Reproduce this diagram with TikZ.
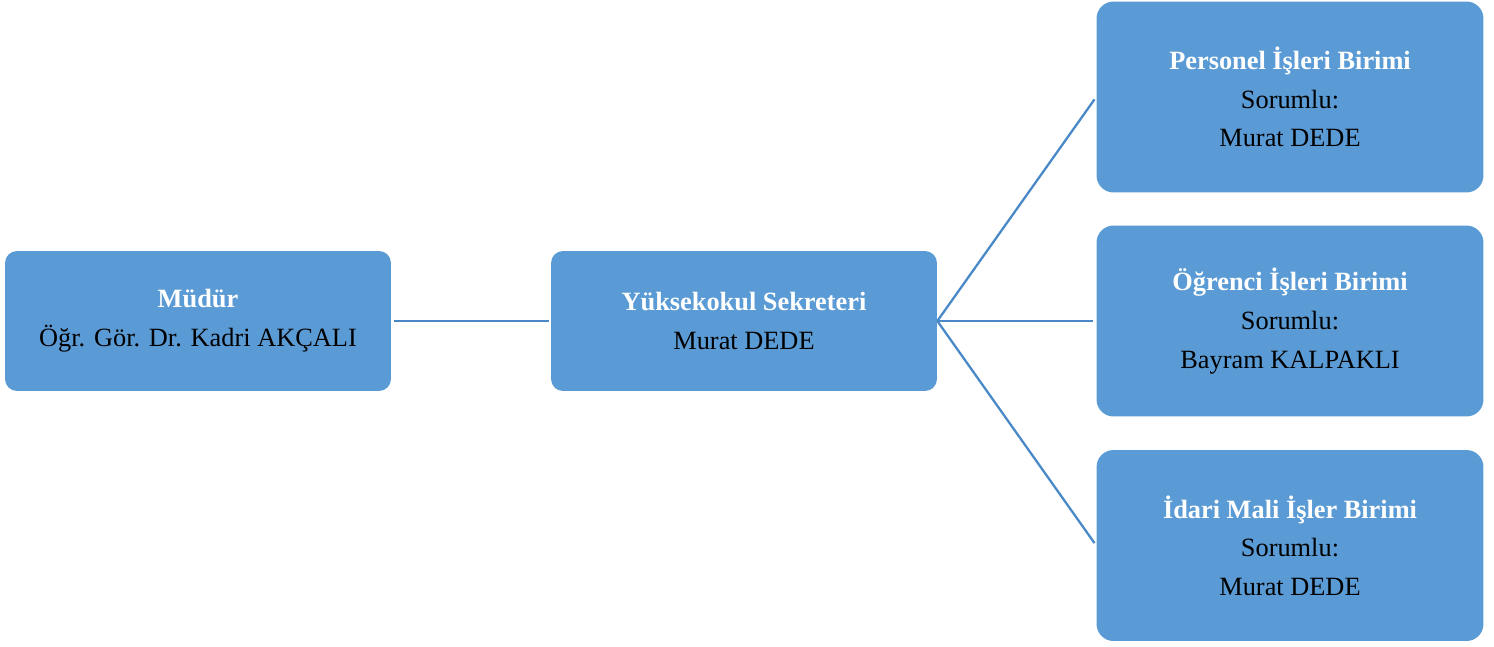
\documentclass[tikz,border=0pt]{standalone}
\usepackage{fontspec}
\setmainfont{Liberation Serif}
\definecolor{kutumavi}{HTML}{5B9BD5}
\definecolor{cizgimavi}{HTML}{4A89C8}
\newcommand{\baslik}[1]{{\bfseries\color{white}#1}}
\begin{document}
\begin{tikzpicture}[x=0.02cm,y=-0.02cm,
	kutu/.style={fill=kutumavi,rounded corners=0.24cm,minimum width=7.72cm,minimum height=2.8cm,align=center,inner sep=0pt,font=\fontsize{15}{22}\selectfont},
	birim/.style={kutu,rounded corners=0.34cm,minimum width=7.74cm,minimum height=3.82cm},
	baglanti/.style={draw=cizgimavi,line width=1.3pt}]
			\useasboundingbox (0,0) rectangle (1494,646);
			\node[kutu] (mudur) at (198,321) {\baslik{Müdür}\\Öğr. Gör. Dr. Kadri AKÇALI};
			\node[kutu] (sekreter) at (744,321) {\baslik{Yüksekokul Sekreteri}\\Murat DEDE};
			\node[birim] (personel) at (1290,97) {\baslik{Personel İşleri Birimi}\\Sorumlu:\\Murat DEDE};
			\node[birim] (ogrenci) at (1290,321) {\baslik{Öğrenci İşleri Birimi}\\Sorumlu:\\Bayram KALPAKLI};
			\node[birim] (idari) at (1290,545.5) {\baslik{İdari Mali İşler Birimi}\\Sorumlu:\\Murat DEDE};
			\draw[baglanti,shorten <=1.7pt,shorten >=1.2pt] (mudur.east) -- (sekreter.west);
			\draw[baglanti,shorten >=1.7pt] (sekreter.east) -- (personel.west);
			\draw[baglanti,shorten >=1.7pt] (sekreter.east) -- (ogrenci.west);
			\draw[baglanti,shorten >=1.7pt] (sekreter.east) -- (idari.west);
			
		\end{tikzpicture}
\end{document}
